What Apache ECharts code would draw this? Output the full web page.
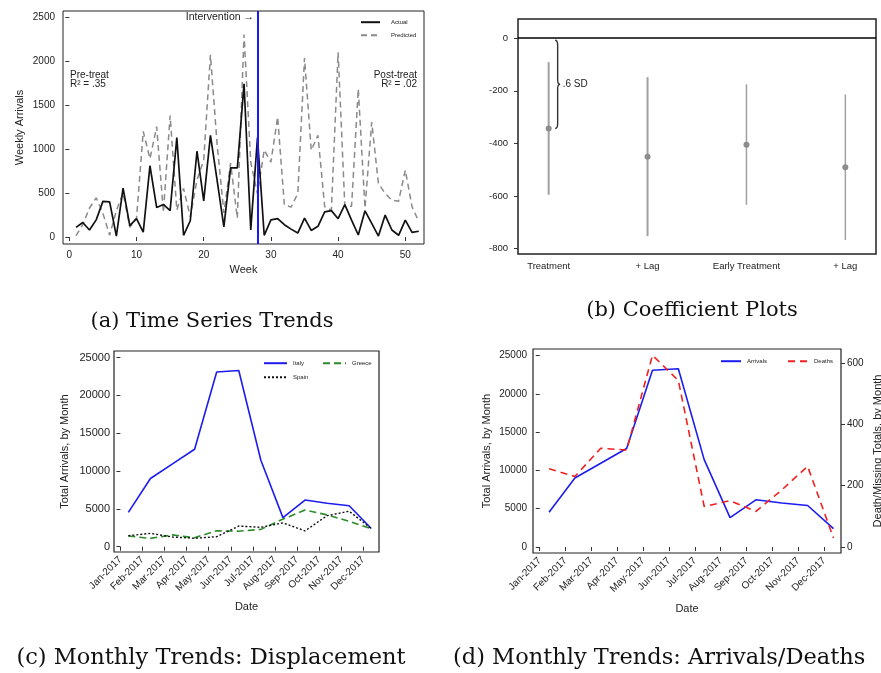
<!DOCTYPE html>
<html>
<head>
<meta charset="utf-8">
<script src="https://cdn.jsdelivr.net/npm/echarts@6/dist/echarts.min.js"></script>
<style>
  html, body { margin: 0; padding: 0; background: #fff; }
  #main { width: 881px; height: 673px; }
</style>
</head>
<body>
<div id="main"></div>
<script>
// (a) weekly arrivals
var weeks = [1, 2, 3, 4, 5, 6, 7, 8, 9, 10, 11, 12, 13, 14, 15, 16, 17, 18, 19, 20, 21, 22, 23, 24, 25, 26,
  27, 28, 29, 30, 31, 32, 33, 34, 35, 36, 37, 38, 39, 40, 41, 42, 43, 44, 45, 46, 47, 48, 49, 50, 51, 52];
var actual = [110, 165, 80, 195, 405, 400, 10, 555, 130, 210, 55, 810, 335, 370, 300, 1130, 20, 185, 975, 410,
  1155, 640, 115, 785, 785, 1740, 80, 1130, 20, 195, 210, 140, 90, 45, 215, 75, 122, 286, 300, 208,
  368, 193, 23, 298, 155, 11, 250, 80, 20, 193, 53, 66];
var predicted = [15, 140, 330, 445, 270, 20, 300, 500, 110, 215, 1200, 890, 1255, 280, 1380, 305, 553, 230, 650, 875,
  2070, 1050, 275, 840, 215, 2300, 850, 490, 990, 850, 1365, 365, 340, 495, 2035, 985, 1155, 345, 305, 2100,
  350, 350, 1683, 330, 1305, 607, 495, 418, 408, 760, 345, 175];
var interventionWeek = 28;

// (b) coefficients
var coefNames = ['Treatment', '+ Lag', 'Early Treatment', '+ Lag'];
var coefEst = [-343, -450, -405, -490];
var coefLow = [-595, -752, -633, -767];
var coefHigh = [-91, -148, -175, -214];

// (c) / (d) monthly
var months = ['Jan-2017', 'Feb-2017', 'Mar-2017', 'Apr-2017', 'May-2017', 'Jun-2017',
  'Jul-2017', 'Aug-2017', 'Sep-2017', 'Oct-2017', 'Nov-2017', 'Dec-2017'];
var italy = [4540, 9020, 10950, 12880, 23100, 23300, 11420, 3840, 6170, 5750, 5420, 2400];
var greece = [1410, 1100, 1560, 1190, 2110, 2050, 2290, 3650, 4860, 4200, 3350, 2390];
var spain = [1450, 1765, 1280, 1120, 1320, 2730, 2560, 3150, 2090, 4100, 4690, 2400];
var deaths = [255, 230, 322, 316, 625, 543, 132, 151, 116, 186, 263, 29];

var monthOffset = 0.36; // points sit a little after the month tick

function pairs(xs, ys) {
  return ys.map(function (y, i) { return [xs[i], y]; });
}
function monthly(ys) {
  return ys.map(function (y, i) { return [i + monthOffset, y]; });
}

var ink = '#222';
var monthTicks = months.map(function (m, i) { return i; });
var plain = function (v) { return String(v); };

function axis(grid, min, max, ticks, o) {
  o = o || {};
  return {
    type: 'value', gridIndex: grid, min: min, max: max,
    position: o.position,
    name: o.name, nameLocation: 'middle', nameGap: o.nameGap, nameRotate: o.nameRotate,
    nameTextStyle: {fontSize: 11, color: ink},
    axisLine: {show: false},
    splitLine: {show: false},
    axisTick: {show: o.tick !== false, customValues: ticks, length: 4, inside: false,
      lineStyle: {color: '#333'}},
    axisLabel: {customValues: ticks, fontSize: o.fontSize || 10, color: ink, margin: o.margin || 8,
      rotate: o.rotate || 0, formatter: o.formatter || plain}
  };
}

var monthLabel = function (v) { return months[Math.round(v)]; };

// legend helper: line sample only, no marker dot
function legendBox(names, left, top, o) {
  o = o || {};
  return {
    data: names, left: left, top: top, padding: 0, orient: o.orient || 'horizontal',
    itemWidth: o.itemWidth || 22, itemHeight: 8, itemGap: o.itemGap || 10,
    itemStyle: {opacity: 0},
    selectedMode: false,
    textStyle: {fontSize: 6, color: ink, padding: [0, 0, 0, o.textPad || 1]}
  };
}

function box(left, top, width, height, lw) {
  return {left: left, top: top, width: width, height: height, outerBoundsMode: 'none',
    show: true, borderColor: '#222', borderWidth: lw};
}

var chart = echarts.init(document.getElementById('main'));
chart.setOption({
  animation: false,
  textStyle: {fontFamily: 'Liberation Sans'},
  grid: [
    box(63, 11, 361, 233, 1),
    box(518, 19, 358, 235, 1.5),
    box(114, 351, 265, 201, 1.2),
    box(533, 349, 308, 204, 1.2)
  ],
  xAxis: [
    axis(0, -0.94, 52.78, [0, 10, 20, 30, 40, 50], {name: 'Week', nameGap: 20, margin: 6}),
    axis(1, 0.69, 4.31, [1, 2, 3, 4], {tick: false, fontSize: 9.5, margin: 7,
      formatter: function (v) { return coefNames[Math.round(v) - 1]; }}),
    axis(2, -0.29, 11.71, monthTicks, {name: 'Date', nameGap: 49, rotate: 45, margin: 6,
      formatter: monthLabel}),
    axis(3, -0.26, 11.65, monthTicks, {name: 'Date', nameGap: 50, rotate: 45, margin: 6,
      formatter: monthLabel})
  ],
  yAxis: [
    axis(0, -79, 2568, [0, 500, 1000, 1500, 2000, 2500], {name: 'Weekly Arrivals', nameGap: 38}),
    axis(1, -820, 73, [0, -200, -400, -600, -800], {fontSize: 9.5, margin: 10}),
    axis(2, -700, 25870, [0, 5000, 10000, 15000, 20000, 25000],
      {name: 'Total Arrivals, by Month', nameGap: 44, fontSize: 11, margin: 4}),
    axis(3, -784, 25876, [0, 5000, 10000, 15000, 20000, 25000],
      {name: 'Total Arrivals, by Month', nameGap: 41, fontSize: 10, margin: 6}),
    axis(3, -19.6, 645.6, [0, 200, 400, 600],
      {name: 'Death/Missing Totals, by Month', position: 'right', nameGap: 31, nameRotate: 90,
        fontSize: 10, margin: 6})
  ],
  legend: [
    legendBox(['Actual', 'Predicted'], 360, 19, {orient: 'vertical', itemWidth: 19, itemGap: 6.7, textPad: 6}),
    legendBox(['Italy', 'Greece'], 263, 360, {itemWidth: 23, itemGap: 18}),
    legendBox(['Spain'], 263, 374, {itemWidth: 23}),
    legendBox(['Arrivals', 'Deaths'], 720, 358, {itemWidth: 20, itemGap: 20, textPad: 1})
  ],
  series: [
    {
      name: 'Predicted', type: 'line', xAxisIndex: 0, yAxisIndex: 0, symbol: 'none',
      data: pairs(weeks, predicted),
      lineStyle: {color: '#8a8a8a', width: 1.5, type: [6, 4]}, itemStyle: {color: '#8a8a8a'}
    },
    {
      name: 'Actual', type: 'line', xAxisIndex: 0, yAxisIndex: 0, symbol: 'none',
      data: pairs(weeks, actual),
      lineStyle: {color: '#111', width: 1.7}, itemStyle: {color: '#111'},
      markLine: {
        silent: true, symbol: 'none', label: {show: false},
        lineStyle: {color: '#1818ff', width: 2, type: 'solid'},
        data: [{xAxis: interventionWeek}]
      }
    },
    {
      name: 'coef', type: 'custom', xAxisIndex: 1, yAxisIndex: 1,
      data: coefEst.map(function (e, i) { return [i + 1, e, coefLow[i], coefHigh[i]]; }),
      renderItem: function (params, api) {
        var x = api.value(0);
        var hi = api.coord([x, api.value(3)]);
        var lo = api.coord([x, api.value(2)]);
        var mid = api.coord([x, api.value(1)]);
        return {type: 'group', children: [
          {type: 'line', shape: {x1: hi[0], y1: hi[1], x2: lo[0], y2: lo[1]},
            style: {stroke: '#a0a0a0', lineWidth: params.dataIndex < 2 ? 2 : 1.5}},
          {type: 'circle', shape: {cx: mid[0], cy: mid[1], r: 3}, style: {fill: '#8c8c8c'}}
        ]};
      },
      markLine: {
        silent: true, symbol: 'none', label: {show: false},
        lineStyle: {color: '#000', width: 1.6, type: 'solid'},
        data: [{yAxis: 0}]
      }
    },
    {
      name: 'brace', type: 'custom', xAxisIndex: 1, yAxisIndex: 1,
      data: [[1, 0, coefEst[0]]],
      renderItem: function (params, api) {
        var p0 = api.coord([api.value(0), api.value(1)]);
        var p1 = api.coord([api.value(0), api.value(2)]);
        var x = p0[0] + 9, y0 = p0[1] + 2, y1 = p1[1], ym = (y0 + y1) / 2;
        var d = 'M' + (x - 2.5) + ' ' + y0 + ' Q' + x + ' ' + y0 + ' ' + x + ' ' + (y0 + 5) +
          ' L' + x + ' ' + (ym - 4) + ' Q' + x + ' ' + ym + ' ' + (x + 2.5) + ' ' + ym +
          ' Q' + x + ' ' + ym + ' ' + x + ' ' + (ym + 4) +
          ' L' + x + ' ' + (y1 - 5) + ' Q' + x + ' ' + y1 + ' ' + (x - 2.5) + ' ' + y1;
        return {type: 'group', children: [
          {type: 'path', shape: {pathData: d}, style: {stroke: '#333', lineWidth: 1.4, fill: null}},
          {type: 'text', x: x + 5, y: ym, style: {text: '.6 SD', fill: ink,
            font: '10px Liberation Sans', verticalAlign: 'middle'}}
        ]};
      }
    },
    {
      name: 'Italy', type: 'line', xAxisIndex: 2, yAxisIndex: 2, symbol: 'none',
      data: monthly(italy),
      lineStyle: {color: '#1c1cf0', width: 1.6}, itemStyle: {color: '#1c1cf0'}
    },
    {
      name: 'Greece', type: 'line', xAxisIndex: 2, yAxisIndex: 2, symbol: 'none',
      data: monthly(greece),
      lineStyle: {color: '#2a8c2a', width: 1.6, type: [7, 4]}, itemStyle: {color: '#2a8c2a'}
    },
    {
      name: 'Spain', type: 'line', xAxisIndex: 2, yAxisIndex: 2, symbol: 'none',
      data: monthly(spain),
      lineStyle: {color: '#111', width: 1.4, type: [2, 2]}, itemStyle: {color: '#111'}
    },
    {
      name: 'Arrivals', type: 'line', xAxisIndex: 3, yAxisIndex: 3, symbol: 'none',
      data: monthly(italy),
      lineStyle: {color: '#1c1cf0', width: 1.6}, itemStyle: {color: '#1c1cf0'}
    },
    {
      name: 'Deaths', type: 'line', xAxisIndex: 3, yAxisIndex: 4, symbol: 'none',
      data: monthly(deaths),
      lineStyle: {color: '#f02020', width: 1.6, type: [7, 5]}, itemStyle: {color: '#f02020'}
    }
  ],
  graphic: [
    {type: 'text', x: 254, y: 17, style: {text: 'Intervention \u2192', font: '10.5px Liberation Sans',
      fill: ink, align: 'right', verticalAlign: 'middle'}},
    {type: 'text', x: 70, y: 80, style: {text: 'Pre-treat\nR\u00b2 = .35', font: '10px Liberation Sans',
      lineHeight: 9, fill: ink, align: 'left', verticalAlign: 'middle'}},
    {type: 'text', x: 417, y: 80, style: {text: 'Post-treat\nR\u00b2 = .02', font: '10px Liberation Sans',
      lineHeight: 9, fill: ink, align: 'right', verticalAlign: 'middle'}},
    {type: 'text', x: 212, y: 322, style: {text: '(a) Time Series Trends', font: '21px DejaVu Serif',
      fill: '#111', align: 'center', verticalAlign: 'middle'}},
    {type: 'text', x: 692, y: 311, style: {text: '(b) Coefficient Plots', font: '21px DejaVu Serif',
      fill: '#111', align: 'center', verticalAlign: 'middle'}},
    {type: 'text', x: 211, y: 658, style: {text: '(c) Monthly Trends: Displacement', font: '22.5px DejaVu Serif',
      fill: '#111', align: 'center', verticalAlign: 'middle'}},
    {type: 'text', x: 453, y: 658, style: {text: '(d) Monthly Trends: Arrivals/Deaths', font: '22.5px DejaVu Serif',
      fill: '#111', align: 'left', verticalAlign: 'middle'}}
  ]
});
</script>
</body>
</html>
